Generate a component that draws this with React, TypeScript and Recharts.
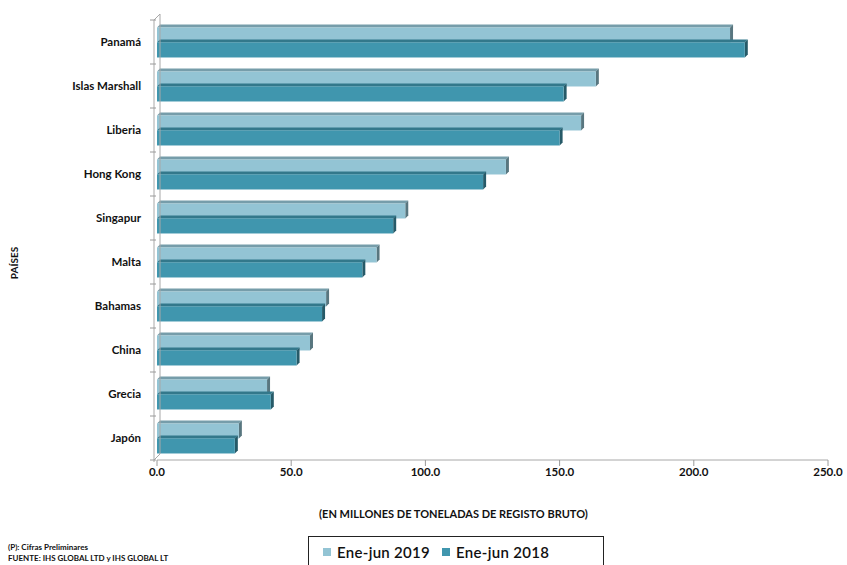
import {Bar, BarChart, Legend, ReferenceLine, XAxis, YAxis} from 'recharts'

const paises = ['Panamá', 'Islas Marshall', 'Liberia', 'Hong Kong', 'Singapur', 'Malta', 'Bahamas', 'China', 'Grecia', 'Japón']
const eneJun2019 = [213.5, 163.5, 158, 130, 92.5, 81.8, 63, 57, 41, 30.5]
const eneJun2018 = [219, 151.5, 150, 121.5, 88, 76.5, 61.5, 52, 42.4, 29]
const xTicks = [0, 50, 100, 150, 200, 250]

const color2019 = '#93c4d4'
const color2018 = '#4096ae'
const font = 'Lato, "Open Sans", sans-serif'

const data = paises.map((pais, i) => ({
    pais,
    v2019: eneJun2019[i],
    v2018: eneJun2018[i],
}))

const shade = (hex: string, k: number) => {
    const n = parseInt(hex.slice(1), 16)
    const c = [(n >> 16) & 255, (n >> 8) & 255, n & 255].map((v) => Math.round(v * k))
    return `rgb(${c[0]},${c[1]},${c[2]})`
}

// front face + top + right side, to mimic the excel 3d bars
function Bar3D(props: any) {
    const {x, y, width, height, fill} = props
    if (!width || width <= 0) return null
    const d = 3
    return (
        <g>
            <polygon
                points={`${x},${y} ${x + d},${y - d} ${x + width + d},${y - d} ${x + width},${y}`}
                fill={shade(fill, 0.8)}
            />
            <polygon
                points={`${x + width},${y} ${x + width + d},${y - d} ${x + width + d},${y + height - d} ${x + width},${y + height}`}
                fill={shade(fill, 0.6)}
            />
            <rect x={x} y={y} width={width} height={height} fill={fill}/>
        </g>
    )
}

function CategoryTick(props: any) {
    const {x, y, payload, index} = props
    const band = 44
    const last = index === paises.length - 1
    return (
        <g>
            <line x1={x + 1} x2={x + 7} y1={y - band / 2} y2={y - band / 2} stroke="#9a9a9a"/>
            {last ? <line x1={x + 1} x2={x + 7} y1={y + band / 2} y2={y + band / 2} stroke="#9a9a9a"/> : null}
            <text x={x - 8} y={y} dy={4} textAnchor="end" fontSize={11.5} fontWeight={700} fill="#111" fontFamily={font}>
                {payload.value}
            </text>
        </g>
    )
}

function Wall(props: any) {
    const {x1, y1, y2} = props
    const top = Math.min(y1, y2)
    const bottom = Math.max(y1, y2)
    return (
        <g stroke="#a8a8a8" fill="none" strokeWidth={1}>
            <line x1={x1 - 3} x2={x1 - 3} y1={top} y2={bottom + 2}/>
            <line x1={x1 + 3} x2={x1 + 3} y1={top - 6} y2={bottom - 6}/>
            <line x1={x1 - 3} x2={x1 + 3} y1={top} y2={top - 6}/>
            <line x1={x1 - 3} x2={x1 + 3} y1={bottom} y2={bottom - 6}/>
        </g>
    )
}

function LegendBox() {
    const item = (c: string, label: string) => (
        <span style={{display: 'inline-flex', alignItems: 'center', marginRight: 12}}>
            <span style={{width: 8, height: 8, background: c, display: 'inline-block', marginRight: 6}}/>
            <span>{label}</span>
        </span>
    )
    return (
        <div
            style={{
                width: 296,
                height: 40,
                border: '1px solid #222',
                boxSizing: 'border-box',
                paddingTop: 4,
                paddingLeft: 14,
                fontFamily: font,
                fontSize: 15,
                fontWeight: 600,
                color: '#111',
                letterSpacing: 0.3,
            }}
        >
            {item(color2019, 'Ene-jun 2019')}
            {item(color2018, 'Ene-jun 2018')}
        </div>
    )
}

export default function App() {
    return (
        <div style={{position: 'absolute', left: 0, top: 0, width: 847, height: 565, overflow: 'hidden', background: '#fff'}}>
            <BarChart
                width={847}
                height={565}
                layout="vertical"
                data={data}
                margin={{top: 20, right: 19, bottom: 35, left: 0}}
                barCategoryGap="17%"
                barGap={0}
            >
                <XAxis
                    type="number"
                    domain={[0, 250]}
                    ticks={xTicks}
                    tickFormatter={(v) => v.toFixed(1)}
                    tick={{fill: '#111', fontSize: 11.5, fontWeight: 700, fontFamily: font}}
                    tickLine={{stroke: '#9a9a9a'}}
                    tickSize={6}
                    axisLine={{stroke: '#a8a8a8'}}
                    height={30}
                />
                <YAxis
                    type="category"
                    dataKey="pais"
                    width={157}
                    tick={<CategoryTick/>}
                    tickLine={false}
                    axisLine={false}
                    interval={0}
                />
                <ReferenceLine x={0} shape={<Wall/>}/>
                <Bar dataKey="v2019" name="Ene-jun 2019" fill={color2019} shape={<Bar3D/>} isAnimationActive={false}/>
                <Bar dataKey="v2018" name="Ene-jun 2018" fill={color2018} shape={<Bar3D/>} isAnimationActive={false}/>
                <Legend content={<LegendBox/>} wrapperStyle={{position: 'absolute', left: 308, top: 536, width: 296}}/>
            </BarChart>
            <div
                style={{
                    position: 'absolute',
                    left: 14,
                    top: 263,
                    transform: 'translate(-50%, -50%) rotate(-90deg)',
                    fontFamily: font,
                    fontSize: 10,
                    fontWeight: 700,
                    color: '#111',
                }}
            >
                PAÍSES
            </div>
            <div
                style={{
                    position: 'absolute',
                    left: 0,
                    width: 847,
                    top: 507,
                    textAlign: 'center',
                    paddingLeft: 60,
                    boxSizing: 'border-box',
                    fontFamily: font,
                    fontSize: 11,
                    fontWeight: 700,
                    color: '#111',
                }}
            >
                (EN MILLONES DE TONELADAS DE REGISTO BRUTO)
            </div>
            <div style={{position: 'absolute', left: 8, top: 542, fontFamily: font, fontSize: 8, fontWeight: 700, color: '#111', lineHeight: '11px'}}>
                <div>(P): Cifras Preliminares</div>
                <div>FUENTE: IHS GLOBAL LTD y IHS GLOBAL LT</div>
            </div>
        </div>
    )
}
